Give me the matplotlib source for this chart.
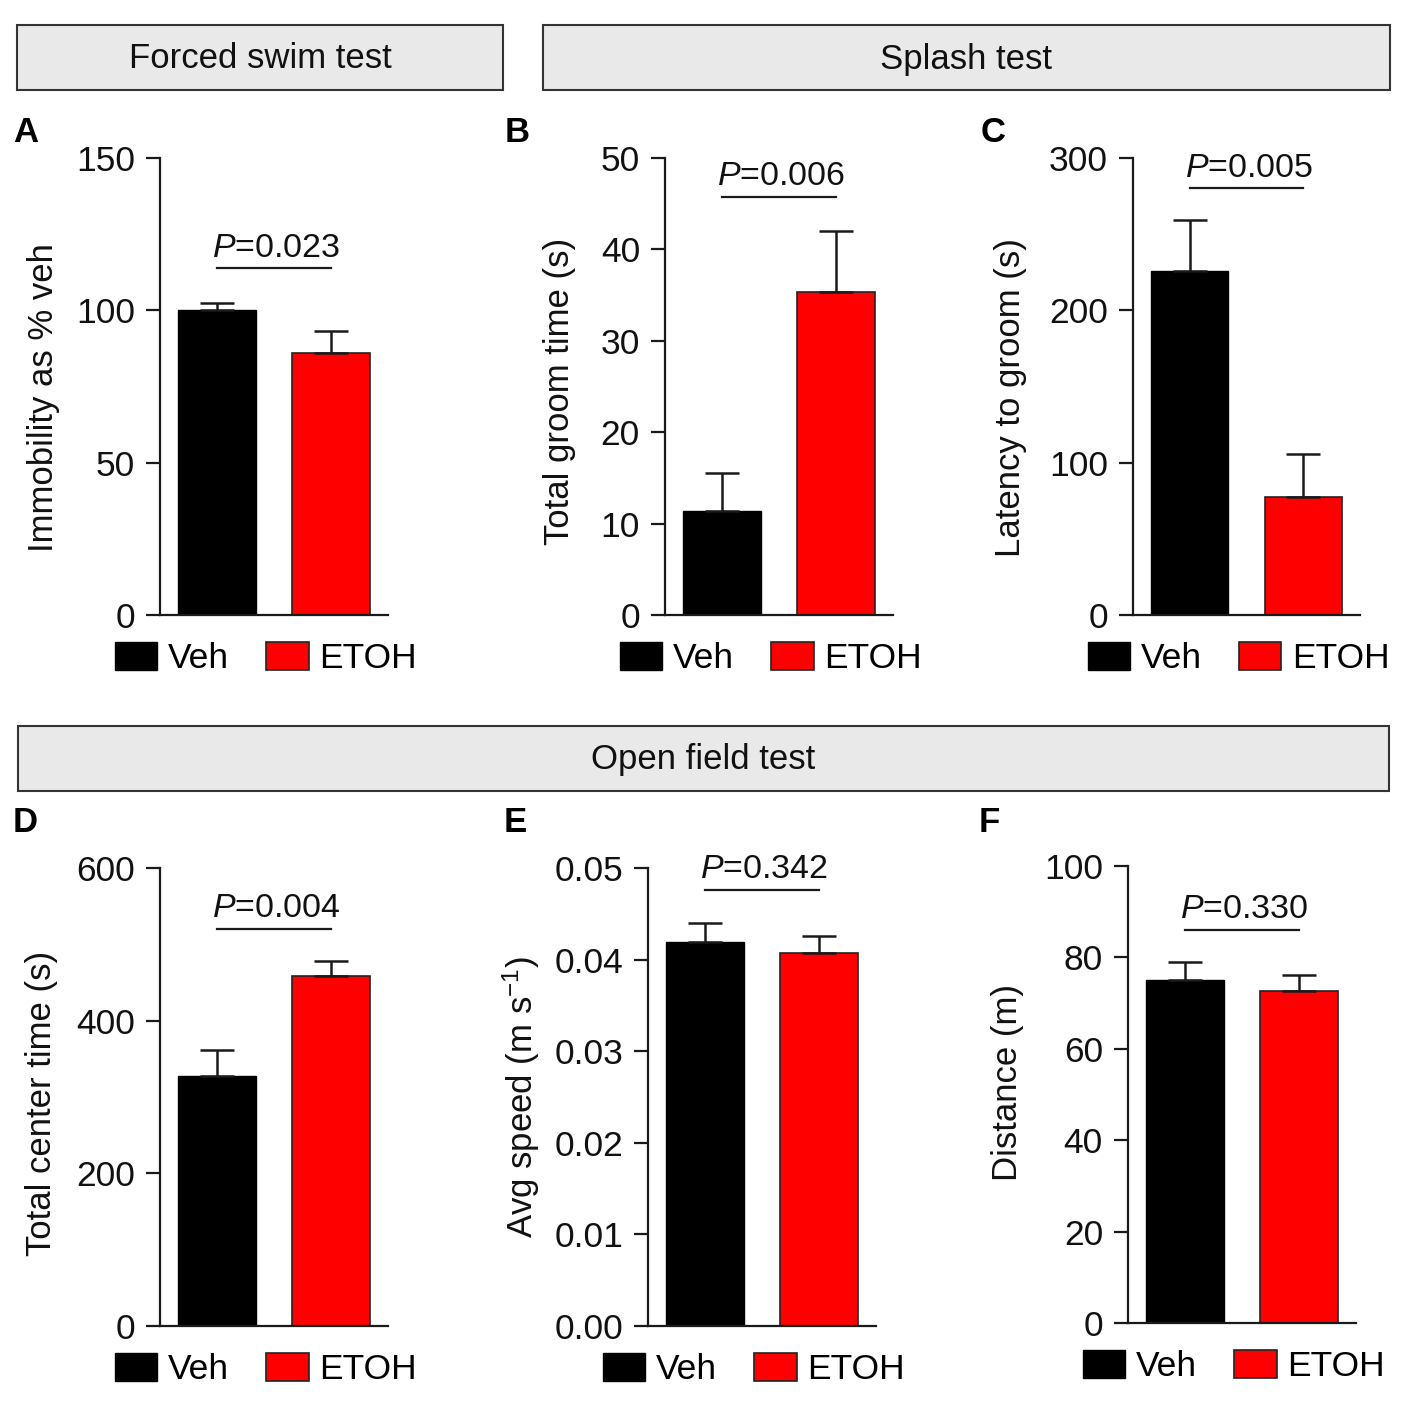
import matplotlib.pyplot as plt
from matplotlib.patches import Rectangle
from matplotlib.ticker import FormatStrFormatter

plt.rcParams['font.family'] = ['Liberation Sans', 'DejaVu Sans']
plt.rcParams['mathtext.fontset'] = 'custom'
plt.rcParams['mathtext.rm'] = 'Liberation Sans'
plt.rcParams['mathtext.it'] = 'Liberation Sans:italic'

W, H = 1418, 1409

# data
groups = ['Veh', 'ETOH']
panel_letters = ['A', 'B', 'C', 'D', 'E', 'F']
ylabels = ['Immobility as % veh', 'Total groom time (s)', 'Latency to groom (s)',
           'Total center time (s)', 'Avg speed (m s$^{-1}$)', 'Distance (m)']
veh_mean = [100, 11.4, 226, 327, 0.0419, 75.1]
veh_sem = [2.4, 4.1, 33, 35, 0.0021, 3.9]
etoh_mean = [86, 35.3, 77.5, 459, 0.0407, 72.6]
etoh_sem = [7.2, 6.7, 28.2, 19.5, 0.0019, 3.5]
p_values = ['0.023', '0.006', '0.005', '0.004', '0.342', '0.330']
ymax = [150, 50, 300, 600, 0.05, 100]
ystep = [50, 10, 100, 200, 0.01, 20]

# layout in pixels: spine x, right x, top y, bottom y
boxes = [(160, 388, 158, 615), (665, 893, 158, 615), (1133, 1360, 158, 615),
         (160, 388, 868, 1326), (648, 876, 868, 1326), (1128, 1356, 866, 1323)]
letter_pos = [(13, 133), (505, 133), (981, 133), (13, 822), (504, 822), (979, 822)]
p_line_y = [0.759, 0.915, 0.934, 0.867, 0.952, 0.86]
label_x = [-0.44, -0.39, -0.465, -0.447, -0.465, -0.456]
label_y = [0.475, 0.49, 0.475, 0.485, 0.5, 0.527]

def frac(l, r, t, b):
    return [l / W, 1 - b / H, (r - l) / W, (b - t) / H]

fig = plt.figure(figsize=(W / 100, H / 100), dpi=100)

# header boxes
headers = [('Forced swim test', 17, 25, 503, 90),
           ('Splash test', 543, 25, 1390, 90),
           ('Open field test', 18, 726, 1389, 791)]
for txt, l, t, r, b in headers:
    fig.patches.append(Rectangle((l / W, 1 - b / H), (r - l) / W, (b - t) / H,
                                 transform=fig.transFigure, facecolor='#e9e9e9',
                                 edgecolor='#333333', linewidth=1.5))
    fig.text((l + r) / 2 / W, 1 - (t + b + 3) / 2 / H, txt, ha='center', va='center',
             fontsize=25, color='#111111')

dark = '#1a1a1a'
for i in range(6):
    ax = fig.add_axes(frac(*boxes[i]))
    b1 = ax.bar(0, veh_mean[i], width=0.68, color='black', edgecolor='black',
                linewidth=1, label=groups[0])
    b2 = ax.bar(1, etoh_mean[i], width=0.68, color='#ff0000', edgecolor='#222222',
                linewidth=1.2, label=groups[1])
    ax.errorbar([0, 1], [veh_mean[i], etoh_mean[i]],
                yerr=[[0, 0], [veh_sem[i], etoh_sem[i]]], fmt='none',
                ecolor=dark, elinewidth=1.8, capsize=12, capthick=1.8, zorder=1)
    ax.set_xlim(-0.5, 1.5)
    ax.set_ylim(0, ymax[i])
    ax.set_yticks([k * ystep[i] for k in range(round(ymax[i] / ystep[i]) + 1)])
    if i == 4:
        ax.yaxis.set_major_formatter(FormatStrFormatter('%.2f'))
    ax.set_xticks([])
    for s in ['top', 'right']:
        ax.spines[s].set_visible(False)
    for s in ['left', 'bottom']:
        ax.spines[s].set_linewidth(1.6)
        ax.spines[s].set_color(dark)
    ax.tick_params(axis='y', length=10, width=1.6, color=dark, labelsize=25.5,
                   pad=8, labelcolor='#111111')
    ax.set_ylabel(ylabels[i], fontsize=25, color='#111111')
    ax.yaxis.set_label_coords(label_x[i], label_y[i])

    # significance annotation
    ly = p_line_y[i]
    ax.plot([0.25, 0.75], [ly, ly], transform=ax.transAxes, color=dark,
            linewidth=1.6, clip_on=False)
    ax.text(0.51, ly + 0.01, '$\\it{P}$=' + p_values[i], transform=ax.transAxes,
            ha='center', va='bottom', fontsize=24.5, color='#111111')

    ax.legend(handles=[b1, b2], loc='upper center', bbox_to_anchor=(0.465, -0.058),
              ncol=2, frameon=False, fontsize=25.5, handlelength=1.2,
              handleheight=0.85, handletextpad=0.3, columnspacing=1.05,
              borderpad=0, borderaxespad=0)

    lx, lyp = letter_pos[i]
    fig.text(lx / W, 1 - lyp / H, panel_letters[i], fontsize=25, fontweight='bold',
             ha='left', va='center')

fig.savefig('out.png', dpi=100, facecolor='white')
